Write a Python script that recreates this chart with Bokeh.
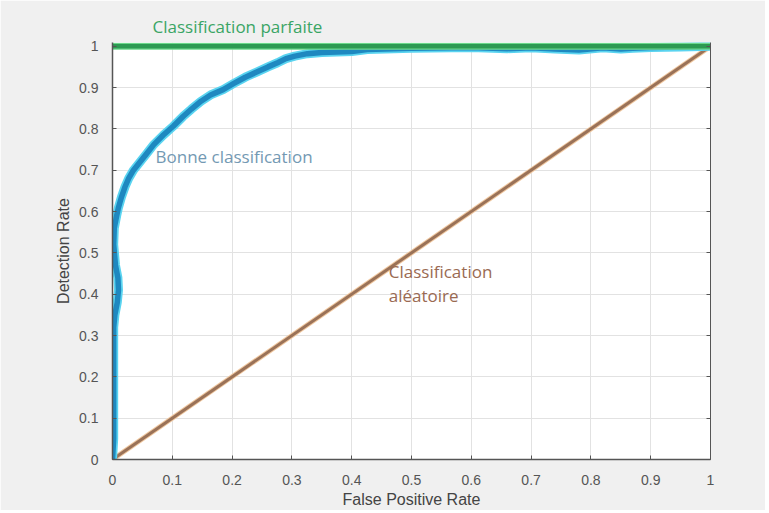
from bokeh.plotting import figure
from bokeh.models import LinearAxis, FixedTicker, Label, Title
from bokeh.embed import file_html
from bokeh.resources import INLINE

# ROC curve ("Bonne classification")
roc_fpr = [0, 0.002, 0.002, 0.004, 0.008, 0.010, 0.009, 0.005, 0.002, 0.003, 0.007, 0.010,
           0.015, 0.021, 0.027, 0.035, 0.045, 0.057, 0.069, 0.085, 0.102, 0.118, 0.132,
           0.148, 0.164, 0.185, 0.203, 0.222, 0.242, 0.260, 0.276, 0.290, 0.305, 0.326,
           0.35, 0.40, 0.426, 0.50, 0.60, 0.66, 0.70, 0.74, 0.78, 0.82, 0.85, 0.87, 0.90,
           0.95, 1.0]
roc_tpr = [0, 0.05, 0.32, 0.35, 0.38, 0.41, 0.44, 0.47, 0.52, 0.56, 0.59, 0.61,
           0.635, 0.66, 0.68, 0.70, 0.718, 0.74, 0.762, 0.785, 0.807, 0.83, 0.848,
           0.867, 0.882, 0.895, 0.910, 0.925, 0.938, 0.950, 0.960, 0.970, 0.976, 0.982,
           0.985, 0.987, 0.992, 0.995, 0.997, 0.994, 0.996, 0.993, 0.991, 0.996, 0.993,
           0.995, 0.997, 0.998, 1.0]
# Perfect classification
perfect_fpr = [0, 1.0]
perfect_tpr = [1.0, 1.0]
# Random classification
random_fpr = [0, 1]
random_tpr = [0, 1]

ticks = [0, 0.1, 0.2, 0.3, 0.4, 0.5, 0.6, 0.7, 0.8, 0.9, 1]
tick_labels = {t: ("0" if t == 0 else ("1" if t == 1 else f"{t:g}")) for t in ticks}

p = figure(width=765, height=510, output_backend="svg", toolbar_location=None,
           x_range=(0, 1), y_range=(0, 1.009),
           min_border_left=112, min_border_right=55, min_border_top=42, min_border_bottom=49)
p.background_fill_color = "white"
p.border_fill_color = "#f0f0f0"
p.outline_line_color = None

for ax in (p.xaxis[0], p.yaxis[0]):
    ax.ticker = FixedTicker(ticks=ticks)
    ax.major_label_overrides = tick_labels
    ax.major_tick_in = 4
    ax.major_tick_out = 0
    ax.minor_tick_line_color = None
    ax.axis_line_color = "#555555"
    ax.axis_line_width = 1.5
    ax.major_tick_line_color = "#555555"
    ax.major_label_text_font = "Liberation Sans"
    ax.major_label_text_font_size = "14px"
    ax.major_label_text_color = "#555555"
    ax.axis_label_text_font = "Liberation Sans"
    ax.axis_label_text_font_size = "16px"
    ax.axis_label_text_font_style = "normal"
    ax.axis_label_text_color = "#444444"

p.xaxis.axis_label = "False Positive Rate"
p.yaxis.axis_label = "Detection Rate"
p.xaxis.major_label_standoff = 15
p.xaxis.axis_label_standoff = 3
p.yaxis.major_label_standoff = 14
p.yaxis.axis_label_standoff = 4

ra = LinearAxis(ticker=FixedTicker(ticks=ticks), major_label_text_font_size="0px",
                major_tick_in=4, major_tick_out=0, minor_tick_line_color=None,
                axis_line_color="#555555", major_tick_line_color="#555555")
p.add_layout(ra, "right")

p.grid.ticker = FixedTicker(ticks=ticks)
p.grid.grid_line_color = "#e2e2e2"
p.grid.grid_line_width = 1

# random diagonal
p.line(random_fpr, random_tpr, line_color="#f0c8a0", line_width=5)
p.line(random_fpr, random_tpr, line_color="#9a7258", line_width=3)
# ROC curve
p.line(roc_fpr, roc_tpr, line_color="#5ad4f0", line_width=9, line_join="round")
p.line(roc_fpr, roc_tpr, line_color="#1e88c0", line_width=5.5, line_join="round")
# perfect
p.line(perfect_fpr, perfect_tpr, line_color="#6ad88a", line_width=7)
p.line(perfect_fpr, perfect_tpr, line_color="#2c9a52", line_width=4.5)

t = Title(text="Classification parfaite", text_color="#3aa565", text_font="Open Sans",
          text_font_size="17px", text_font_style="normal", align="left", offset=40,
          standoff=10)
p.add_layout(t, "above")

p.add_layout(Label(x=0.072, y=0.734, text="Bonne classification", text_color="#7399b3",
                   text_font="Open Sans", text_font_size="17px", text_baseline="middle"))
p.add_layout(Label(x=0.462, y=0.456, text="Classification", text_color="#9a6a52",
                   text_font="Open Sans", text_font_size="17px", text_baseline="middle"))
p.add_layout(Label(x=0.462, y=0.398, text="aléatoire", text_color="#9a6a52",
                   text_font="Open Sans", text_font_size="17px", text_baseline="middle"))

open("out.html", "w").write(file_html(p, INLINE))
